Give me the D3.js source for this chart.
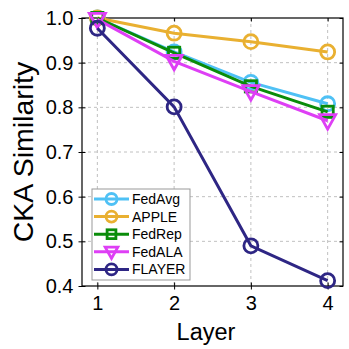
<!DOCTYPE html>
<html><head><meta charset="utf-8">
<script src="https://cdn.jsdelivr.net/npm/d3@7"></script>
<style>body{margin:0;background:#fff}svg{display:block;font-family:"Liberation Sans",Arial,sans-serif}</style>
</head><body><svg id="c" width="349" height="349"></svg>
<script>
const layers = [1, 2, 3, 4];
const seriesNames = ["FedAvg", "APPLE", "FedRep", "FedALA", "FLAYER"];
const fedAvg = [1.0, 0.924, 0.856, 0.808];
const apple = [1.0, 0.966, 0.947, 0.924];
const fedRep = [1.0, 0.922, 0.847, 0.790];
const fedALA = [0.997, 0.903, 0.835, 0.770];
const flayer = [0.977, 0.801, 0.490, 0.412];
const yTicks = [0.4, 0.5, 0.6, 0.7, 0.8, 0.9, 1.0];
const colors = ["#4fc1f5", "#e9b031", "#0a8c0a", "#de3ff5", "#2e2684"];
const markers = ["circle", "circle", "square", "triangle", "circle"];
const allVals = [fedAvg, apple, fedRep, fedALA, flayer];

const svg = d3.select("#c");
const L = 82, R = 343, T = 18, B = 286;
const x = d3.scaleLinear().domain([0.8, 4.2]).range([L, R]);
const y = d3.scaleLinear().domain([0.4, 1.0]).range([B, T]);

// grid
const g = svg.append("g");
g.selectAll(".gx").data(layers).join("line")
  .attr("x1", d => x(d)).attr("x2", d => x(d)).attr("y1", T).attr("y2", B)
  .attr("stroke", "#b0b0b0").attr("stroke-width", 0.8).attr("stroke-dasharray", "3,3");
g.selectAll(".gy").data(yTicks.slice(1, -1)).join("line")
  .attr("y1", d => y(d)).attr("y2", d => y(d)).attr("x1", L).attr("x2", R)
  .attr("stroke", "#b0b0b0").attr("stroke-width", 0.8).attr("stroke-dasharray", "3,3");

// axes (ticks crossing the frame)
const xAxis = d3.axisBottom(x).tickValues(layers).tickFormat(d3.format("d")).tickSizeInner(3.5).tickSizeOuter(0).tickPadding(6);
const yAxis = d3.axisLeft(y).tickValues(yTicks).tickFormat(d3.format(".1f")).tickSizeInner(3.5).tickSizeOuter(0).tickPadding(5);
const xa = svg.append("g").attr("transform", `translate(0,${B})`).call(xAxis);
const ya = svg.append("g").attr("transform", `translate(${L},0)`).call(yAxis);
[xa, ya].forEach(a => {
  a.select(".domain").remove();
  a.selectAll("text").attr("font-size", 20).attr("fill", "#000").attr("font-family", "Liberation Sans, Arial, sans-serif");
  a.selectAll("line").attr("stroke", "#000");
});
xa.selectAll(".tick line").attr("y1", -3.5);
ya.selectAll(".tick line").attr("x1", 3.5);
// mirrored ticks
svg.append("g").attr("transform", `translate(${R},0)`)
  .call(d3.axisRight(y).tickValues(yTicks).tickSizeInner(-3.5).tickSizeOuter(0).tickFormat(""))
  .call(a => a.select(".domain").remove());
svg.append("g").attr("transform", `translate(0,${T})`)
  .call(d3.axisTop(x).tickValues(layers).tickSizeInner(-3.5).tickSizeOuter(0).tickFormat(""))
  .call(a => a.select(".domain").remove());
svg.append("rect").attr("x", L).attr("y", T).attr("width", R - L).attr("height", B - T)
  .attr("fill", "none").attr("stroke", "#000").attr("stroke-width", 1.2);

// labels
svg.append("text").attr("x", 206).attr("y", 340).attr("text-anchor", "middle")
  .attr("font-size", 23.5).text("Layer");
svg.append("text").attr("transform", `translate(33,${(T + B) / 2}) rotate(-90)`).attr("text-anchor", "middle")
  .attr("font-size", 28.5).text("CKA Similarity");

function drawMarker(sel, type, cx, cy, color, r) {
  if (type === "circle") {
    sel.append("circle").attr("cx", cx).attr("cy", cy).attr("r", r)
      .attr("fill", "none").attr("stroke", color).attr("stroke-width", 2.8);
  } else if (type === "square") {
    const s = r * 1.6;
    sel.append("rect").attr("x", cx - s / 2).attr("y", cy - s / 2).attr("width", s).attr("height", s)
      .attr("fill", "none").attr("stroke", color).attr("stroke-width", 2.8);
  } else {
    const h = r * 1.15;
    sel.append("path").attr("d", `M${cx - h},${cy - h * 0.75}L${cx + h},${cy - h * 0.75}L${cx},${cy + h * 1.05}Z`)
      .attr("fill", "none").attr("stroke", color).attr("stroke-width", 2.8).attr("stroke-linejoin", "miter");
  }
}

const line = d3.line().x((d, i) => x(layers[i])).y(d => y(d));
allVals.forEach((vals, si) => {
  const gs = svg.append("g");
  gs.append("path").datum(vals).attr("d", line).attr("fill", "none")
    .attr("stroke", colors[si]).attr("stroke-width", 3);
  vals.forEach((v, i) => drawMarker(gs, markers[si], x(layers[i]), y(v), colors[si], 7));
});

// legend
const lg = svg.append("g");
lg.append("rect").attr("x", 92).attr("y", 189).attr("width", 98).attr("height", 91)
  .attr("fill", "#fff").attr("stroke", "#999").attr("stroke-width", 1);
seriesNames.forEach((n, i) => {
  const yy = 199 + i * 17.6;
  lg.append("line").attr("x1", 94).attr("x2", 129).attr("y1", yy).attr("y2", yy)
    .attr("stroke", colors[i]).attr("stroke-width", 3);
  drawMarker(lg, markers[i], 111.5, yy, colors[i], 5.5);
  lg.append("text").attr("x", 132).attr("y", yy + 5).attr("font-size", 14).text(n);
});
</script></body></html>
